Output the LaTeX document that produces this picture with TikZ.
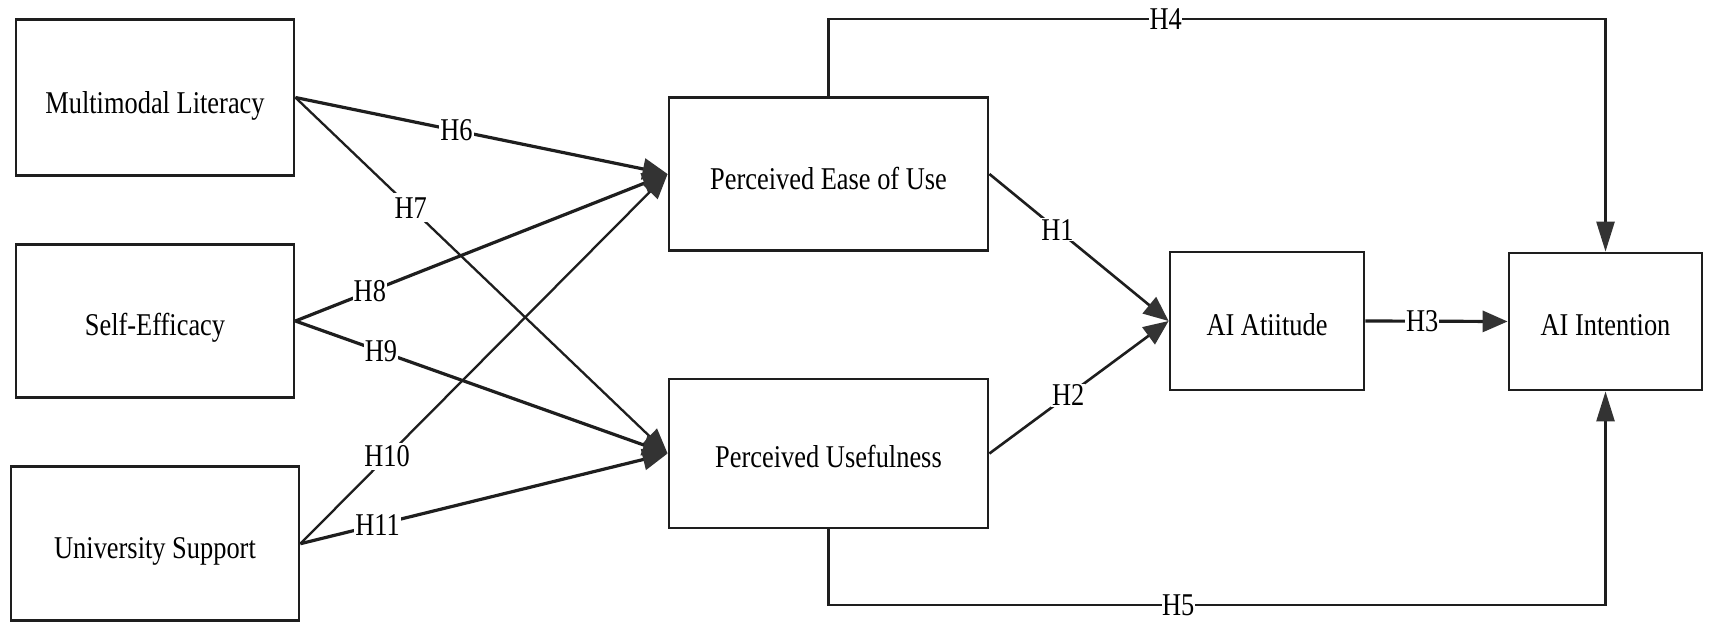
\documentclass[tikz,border=0pt]{standalone}
\usepackage{fontspec}
\usepackage{graphicx}
\setmainfont{Liberation Serif}
\usetikzlibrary{arrows.meta,calc}
\definecolor{linecol}{HTML}{1E1E1E}
\definecolor{tipcol}{HTML}{333333}
\newcommand\vtxt[1]{\scalebox{1}[1.2]{#1}}
\newcommand\btxt[2][14.5pt]{\raisebox{-#1}[0pt][0pt]{\vtxt{#2}}}
\begin{document}
\begin{tikzpicture}[x=1pt,y=-1pt,
  box/.style={draw=linecol, line width=2.8pt, inner sep=0pt, align=center,
    font=\fontsize{26.4}{30}\selectfont},
  conn/.style={draw=linecol, line width=3.2pt,
    -{Triangle[length=25pt,width=21pt,fill=tipcol,color=tipcol]}},
  connthin/.style={conn, line width=2.3pt},
  connmid/.style={conn, line width=2.6pt},
  connv/.style={draw=linecol, line width=2.6pt,
    -{Triangle[length=30pt,width=18pt,fill=tipcol,color=tipcol]}},
  lbl/.style={fill=white, inner sep=1pt, font=\fontsize{26.4}{30}\selectfont}
]
\fill[white] (0,0) rectangle (1713,632);
\useasboundingbox (0,0) rectangle (1713,632);

\node[box, minimum width=278pt, minimum height=156pt] (ml) at (155,97.5) {\btxt[15.5pt]{Multimodal Literacy}};
\node[box, minimum width=278pt, minimum height=153pt] (se) at (155,321) {\btxt{Self-Efficacy}};
\node[box, minimum width=288pt, minimum height=154pt] (us) at (155,543.7) {\btxt{University Support}};
\node[box, minimum width=319pt, minimum height=153pt] (peou) at (828.5,174) {\btxt[15.3pt]{Perceived Ease of Use}};
\node[box, minimum width=319pt, minimum height=149pt] (pu) at (828.5,453.5) {\btxt[13.5pt]{Perceived Usefulness}};
\node[box, minimum width=194pt, minimum height=138pt] (att) at (1267,321) {\btxt[14pt]{AI Atiitude}};
\node[box, minimum width=193pt, minimum height=137pt] (int) at (1605.5,321.5) {\btxt[13.5pt]{AI Intention}};

\draw[conn] (ml.east) -- node[lbl,pos=0.433]{\vtxt{H6}} (peou.west);
\draw[connthin] (ml.east) -- node[lbl,pos=0.31,inner sep=4pt]{\vtxt{H7}} (pu.west);
\draw[conn] (se.east) -- node[lbl,pos=0.20]{\vtxt{H8}} (peou.west);
\draw[conn] (se.east) -- node[lbl,pos=0.23]{\vtxt{H9}} (pu.west);
\draw[connthin] (us.east) -- node[lbl,pos=0.236,inner sep=3pt]{\vtxt{H10}} (peou.west);
\draw[conn] (us.east) -- node[lbl,pos=0.21]{\vtxt{H11}} (pu.west);

\draw[connmid] (peou.east) -- node[lbl,pos=0.38]{\vtxt{H1}} (att.west);
\draw[connmid] (pu.east) -- node[lbl,pos=0.44]{\vtxt{H2}} (att.west);
\draw[conn] (att.east) -- node[lbl,pos=0.40]{\vtxt{H3}} (int.west);

\coordinate (t1) at (828.5,19);
\coordinate (t2) at (1605.5,19);
\coordinate (b1) at (828.5,605);
\coordinate (b2) at (1605.5,605);
\draw[connv] (peou.north) -- (t1) -- node[lbl,pos=0.434,inner sep=0.5pt]{\vtxt{H4}} (t2) -- (int.north);
\draw[connv] (pu.south) -- (b1) -- node[lbl,pos=0.45,inner sep=0.5pt]{\vtxt{H5}} (b2) -- (int.south);
\end{tikzpicture}
\end{document}
